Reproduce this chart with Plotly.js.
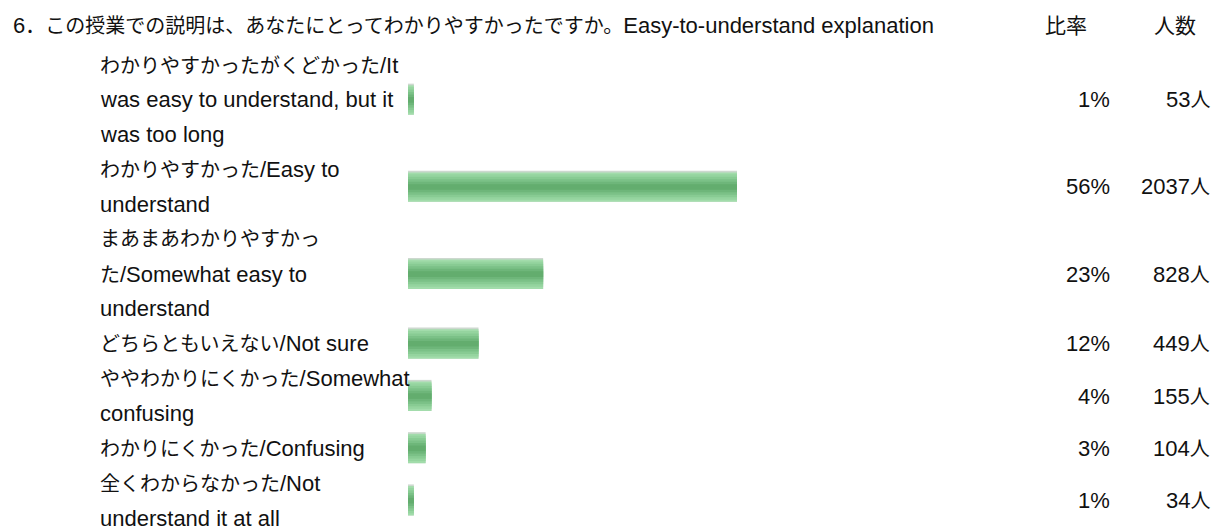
<!DOCTYPE html>
<html>
<head>
<meta charset="utf-8">
<script src="https://cdn.plot.ly/plotly-3.0.1.min.js"></script>
<style>html,body{margin:0;padding:0;background:#fff;}#chart{width:1211px;height:527px;}</style>
</head>
<body>
<div id="chart"></div>
<script>
// ---- data ----
const titleText = "6．この授業での説明は、あなたにとってわかりやすかったですか。Easy-to-understand explanation";
const headerRate = "比率";
const headerCount = "人数";
const labelLines = [
  ["わかりやすかったがくどかった/It", "was easy to understand, but it", "was too long"],
  ["わかりやすかった/Easy to", "understand"],
  ["まあまあわかりやすかっ", "た/Somewhat easy to", "understand"],
  ["どちらともいえない/Not sure"],
  ["ややわかりにくかった/Somewhat", "confusing"],
  ["わかりにくかった/Confusing"],
  ["全くわからなかった/Not", "understand it at all"]
];
const percents = [1, 56, 23, 12, 4, 3, 1];
const counts = [53, 2037, 828, 449, 155, 104, 34];

// ---- layout helpers ----
const W = 1211, H = 527;
const lineTop = 65, linePitch = 34.85;      // pixel centre of first text line, spacing
const barLeft = 408, pxPerPct = 5.875;
const yMin = -lineTop / linePitch, yMax = yMin + H / linePitch;
const xMin = -barLeft / pxPerPct, xMax = xMin + W / pxPerPct;

function fmt(s) {
  // Latin runs slightly larger than CJK runs
  return s.replace(/([\x20-\x7E]+)/g, '<span style="font-size:22px">$1</span>');
}

const rowCenters = [];
const annotations = [];
let li = 0;
labelLines.forEach((lines) => {
  rowCenters.push(li + (lines.length - 1) / 2);
  lines.forEach((t) => {
    annotations.push({xref: 'paper', yref: 'y', x: 98 / W, y: li, xanchor: 'left', yanchor: 'middle',
      text: fmt(t), showarrow: false});
    li++;
  });
});
rowCenters.forEach((c, i) => {
  annotations.push({xref: 'paper', yref: 'y', x: 1112 / W, y: c, xanchor: 'right', yanchor: 'middle',
    text: fmt(percents[i] + '%'), showarrow: false});
  annotations.push({xref: 'paper', yref: 'y', x: 1212 / W, y: c, xanchor: 'right', yanchor: 'middle',
    text: fmt(String(counts[i])) + '人', showarrow: false});
});
annotations.push({xref: 'paper', yref: 'paper', x: 11 / W, y: 1 - 26 / H, xanchor: 'left', yanchor: 'middle',
  text: fmt(titleText), showarrow: false});
annotations.push({xref: 'paper', yref: 'paper', x: 1066 / W, y: 1 - 26 / H, xanchor: 'center', yanchor: 'middle',
  text: headerRate, showarrow: false, font: {size: 21}});
annotations.push({xref: 'paper', yref: 'paper', x: 1175 / W, y: 1 - 26 / H, xanchor: 'center', yanchor: 'middle',
  text: headerCount, showarrow: false, font: {size: 21}});

// smooth-ish vertical gradient by overlaying nested bars
const barH = 31 / linePitch;
const layers = [
  {f: 1.00, c: '#cdd8cf', off: -0.02},
  {f: 0.95, c: '#a2dcab', off: 0.005},
  {f: 0.82, c: '#95d49f', off: 0},
  {f: 0.66, c: '#88cb93', off: 0},
  {f: 0.50, c: '#7bc187', off: 0},
  {f: 0.34, c: '#6eb67a', off: 0},
  {f: 0.18, c: '#63ad6e', off: 0}
];
const traces = layers.map((L) => ({
  type: 'bar', orientation: 'h',
  x: percents, y: rowCenters.map(c => c + L.off), base: 0,
  width: barH * L.f, marker: {color: L.c, line: {width: 0}},
  hoverinfo: 'skip'
}));

const layout = {
  width: W, height: H,
  margin: {l: 0, r: 0, t: 0, b: 0},
  paper_bgcolor: '#fff', plot_bgcolor: '#fff',
  barmode: 'overlay', showlegend: false,
  font: {family: '"Liberation Sans", Arial, "Noto Sans CJK JP", sans-serif', size: 20, color: '#111'},
  xaxis: {range: [xMin, xMax], visible: false, fixedrange: true},
  yaxis: {range: [yMax, yMin], visible: false, fixedrange: true},
  annotations: annotations
};
Plotly.newPlot('chart', traces, layout, {displayModeBar: false, staticPlot: true});
</script>
</body>
</html>
